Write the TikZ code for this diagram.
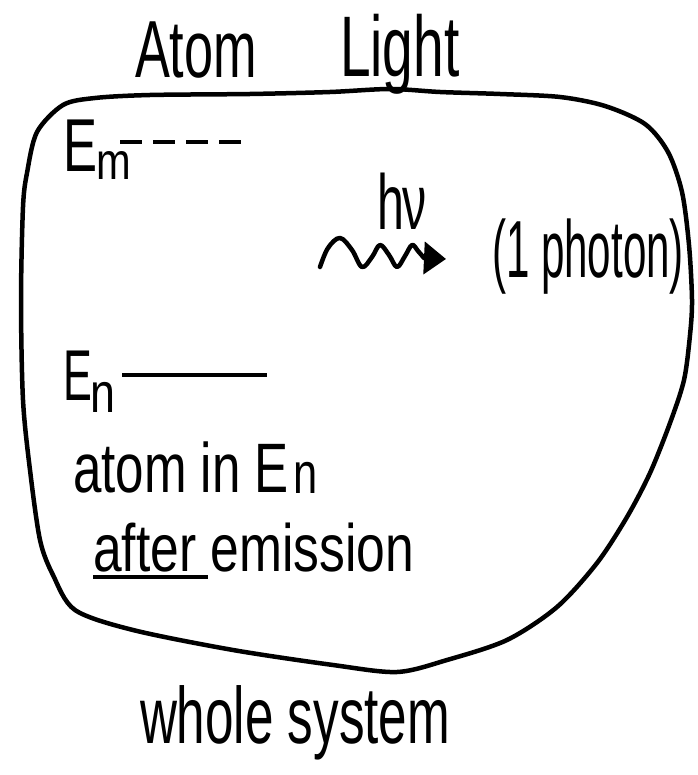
\documentclass[tikz,border=0pt]{standalone}
\usepackage{fontspec}
\newfontfamily\hand{Liberation Sans}
\usetikzlibrary{arrows.meta}
\newcommand{\handtext}[3]{{\fontsize{#1}{#1}\selectfont\scalebox{#2}[1]{#3}}}
\tikzset{
  hw/.style={inner sep=0pt, outer sep=0pt, anchor=base west, font=\hand},
  pen/.style={line width=4.5pt, line cap=round, line join=round},
  level/.style={line width=3.8pt},
}
\begin{document}
\begin{tikzpicture}[x=1pt,y=-1pt]
\useasboundingbox (0,0) rectangle (697,775);
% titles
\node[hw] (atom) at (135,78) {\handtext{81}{0.645}{Atom}};
\node[hw] (light) at (340,77) {\handtext{86}{0.64}{Light}};
% whole system outline
\draw[pen] plot[smooth cycle, tension=0.5] coordinates {
 (63,105) (95,98) (150,95) (250,94) (330,92) (390,89) (440,92) (500,94)
 (560,97) (605,106) (645,124) (668,152) (682,192) (689,245) (692,300)
 (690,335) (684,380) (670,423) (650,473) (627,517) (597,563) (557,607)
 (507,640) (447,660) (397,672) (333,665) (233,650) (133,630) (75,610)
 (53,575) (40,540) (30,470) (23,400) (21,300) (23,207) (27,173) (37,132)};
% E_m level (dashed)
\node[hw] (Em) at (63,172) {\handtext{75}{0.68}{E}};
\node[hw] (Emsub) at (96,180) {\handtext{52}{0.8}{m}};
\coordinate (dashA) at (120,142);
\coordinate (dashB) at (252,142);
\draw[level, dash pattern=on 22pt off 11pt] (dashA) -- (dashB);
% photon
\node[hw] (hnu) at (377,230) {\handtext{78}{0.62}{h\kern-2pt ν}};
\coordinate (w0) at (320,267);
\coordinate (w9) at (446,259);
\draw[pen, -{Triangle[length=22pt,width=32pt]}] plot[smooth, tension=0.6] coordinates {
 (320,267) (328,248) (340,238) (352,250) (362,267) (372,257) (380,245) (389,255)
 (397,267) (405,256) (412,245) (418,251) (424,258)} -- (w9);
\node[hw] (photon) at (492,277) {\handtext{81}{0.52}{(1 photon)}};
% E_n level (solid)
\node[hw] (En) at (63,400) {\handtext{72}{0.6}{E}};
\node[hw] (Ensub) at (90,412) {\handtext{56}{0.8}{n}};
\coordinate (lineA) at (122,375);
\coordinate (lineB) at (267,375);
\draw[level] (lineA) -- (lineB);
% texts
\node[hw] (atomin) at (73,492) {\handtext{70}{0.73}{atom in E}};
\node[hw] (atominsub) at (293,493) {\handtext{58}{0.75}{n}};
\node[hw] (after) at (93,571) {\handtext{67}{0.77}{after emission}};
\coordinate (ulA) at (93,577);
\coordinate (ulB) at (208,577);
\draw[level] (ulA) -- (ulB);
\node[hw] (whole) at (140,743) {\handtext{80}{0.64}{whole system}};
\end{tikzpicture}
\end{document}
